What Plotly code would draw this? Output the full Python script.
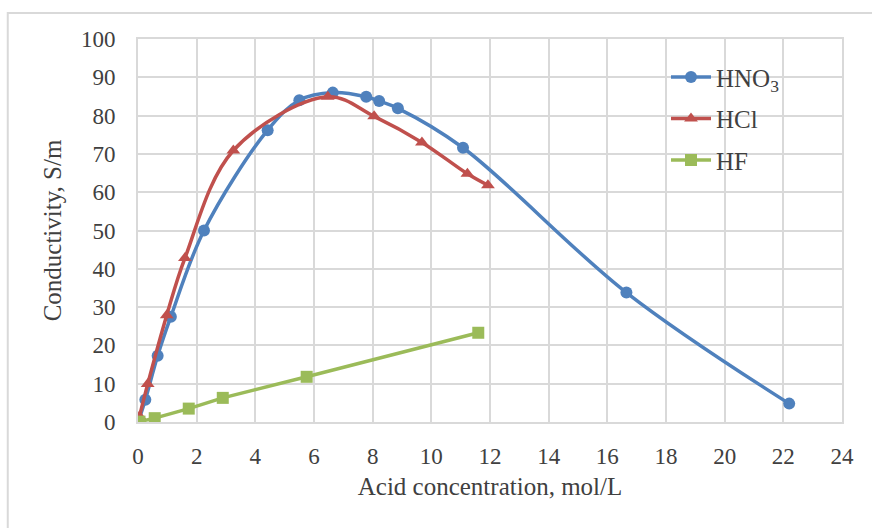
import plotly.graph_objects as go

hno3_x = [0.02, 0.25, 0.67, 1.12, 2.25, 4.42, 5.5, 6.64, 7.78, 8.22, 8.86, 11.08, 16.65, 22.2]
hno3_y = [0.3, 5.8, 17.3, 27.5, 50.0, 76.2, 84.0, 86.0, 84.9, 83.8, 81.9, 71.6, 33.8, 4.8]

hcl_x = [0.05, 0.33, 0.98, 1.6, 3.25, 6.47, 8.05, 9.68, 11.23, 11.93]
hcl_y = [1.5, 9.9, 27.9, 42.8, 70.9, 84.9, 79.8, 73.0, 64.8, 61.8]

hf_x = [0.05, 0.57, 1.73, 2.89, 5.75, 11.6]
hf_y = [0.1, 1.0, 3.5, 6.3, 11.8, 23.3]

x_ticks = list(range(0, 25, 2))
y_ticks = list(range(0, 101, 10))

BLUE = "#4F81BD"
RED = "#C0504D"
GREEN = "#9BBB59"
GRID = "#d9d9d9"
TEXT = "#404040"
FONT = "Liberation Serif"

fig = go.Figure()
fig.add_trace(go.Scatter(x=hno3_x, y=hno3_y, name="HNO<sub>3</sub>", mode="lines+markers",
                         line=dict(color=BLUE, width=3.5, shape="spline", smoothing=1),
                         marker=dict(symbol="circle", size=12, color=BLUE),
                         legendgroup="a"))
fig.add_trace(go.Scatter(x=hcl_x, y=hcl_y, name="HCl", mode="lines+markers",
                         line=dict(color=RED, width=3.5, shape="spline", smoothing=1),
                         marker=dict(symbol="triangle-up", size=12, color=RED),
                         legendgroup="b"))
fig.add_trace(go.Scatter(x=hf_x, y=hf_y, name="HF", mode="lines+markers",
                         line=dict(color=GREEN, width=3.5),
                         marker=dict(symbol="square", size=12, color=GREEN),
                         legendgroup="c"))

fig.update_layout(
    width=872, height=528,
    margin=dict(l=138, r=30, t=39, b=106),
    paper_bgcolor="white", plot_bgcolor="white",
    font=dict(family=FONT, color=TEXT, size=23),
    legend=dict(x=0.75, y=0.96, xanchor="left", yanchor="top",
                bgcolor="rgba(0,0,0,0)", font=dict(size=25, family=FONT, color=TEXT),
                tracegroupgap=6, itemwidth=40),
    showlegend=True,
)
fig.update_xaxes(range=[0, 24], tickvals=x_ticks, ticktext=[str(v) for v in x_ticks],
                 showgrid=True, gridcolor=GRID, gridwidth=2, zeroline=False,
                 showline=True, linecolor=GRID, linewidth=2, mirror=True,
                 ticks="", ticklabelstandoff=12,
                 title=dict(text="Acid concentration, mol/L", font=dict(size=25), standoff=10))
fig.update_yaxes(range=[0, 100], tickvals=y_ticks, ticktext=[str(v) for v in y_ticks],
                 showgrid=True, gridcolor=GRID, gridwidth=2, zeroline=False,
                 showline=True, linecolor=GRID, linewidth=2, mirror=True,
                 ticks="", ticklabelstandoff=16,
                 title=dict(text="Conductivity, S/m", font=dict(size=25), standoff=12))

fig.add_shape(type="rect", xref="paper", yref="paper",
              x0=-0.185, x1=1.2, y0=-0.5, y1=1.068,
              line=dict(color=GRID, width=2), layer="below")

fig.write_html("out.html")
